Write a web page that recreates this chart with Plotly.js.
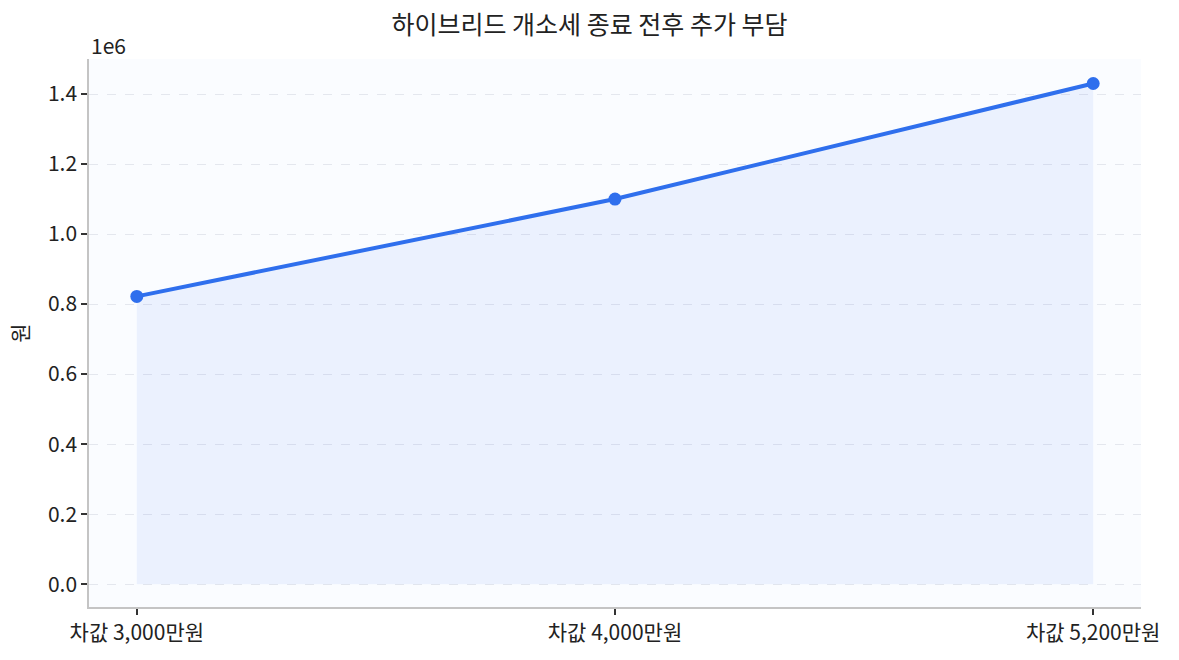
<!DOCTYPE html>
<html>
<head>
<meta charset="utf-8">
<script src="https://cdn.plot.ly/plotly-3.0.1.min.js"></script>
<style>
  html, body { margin: 0; padding: 0; background: #ffffff; }
  #chart { width: 1179px; height: 660px; }
</style>
</head>
<body>
<div id="chart"></div>
<script>
// 차값별 개소세 감면 종료 후 추가 부담 (원)
var categories = ['차값 3,000만원', '차값 4,000만원', '차값 5,200만원'];
var extraCost = [822000, 1100000, 1430000];
var yTicks = [0, 200000, 400000, 600000, 800000, 1000000, 1200000, 1400000];
var yTickText = ['0.0', '0.2', '0.4', '0.6', '0.8', '1.0', '1.2', '1.4'];

var font = 'Noto Sans CJK KR, Noto Sans, sans-serif';

var trace = {
    x: [0, 1, 2],
    y: extraCost,
    type: 'scatter',
    mode: 'lines+markers',
    fill: 'tozeroy',
    fillcolor: 'rgba(47,111,237,0.075)',
    line: {color: '#2f6fed', width: 4},
    marker: {color: '#2f6fed', size: 13},
    hoverinfo: 'x+y'
};

var layout = {
    width: 1179,
    height: 660,
    margin: {l: 89, r: 38, t: 59, b: 53},
    paper_bgcolor: '#ffffff',
    plot_bgcolor: '#fafcff',
    font: {family: font, size: 21, color: '#222222'},
    title: {
        text: '하이브리드 개소세 종료 전후 추가 부담',
        font: {family: font, size: 25, color: '#222222'},
        x: 0.5, xanchor: 'center', y: 0.962, yanchor: 'middle'
    },
    showlegend: false,
    xaxis: {
        range: [-0.1, 2.1],
        tickvals: [0, 1, 2],
        ticktext: categories,
        ticks: 'outside', ticklen: 6, tickwidth: 1.5, tickcolor: '#333333',
        showgrid: false, zeroline: false,
        showline: true, linecolor: '#c4c4c4', linewidth: 1.5,
        tickfont: {size: 21}
    },
    yaxis: {
        range: [-65000, 1500000],
        tickvals: yTicks,
        ticktext: yTickText,
        ticks: 'outside', ticklen: 6, tickwidth: 1.5, tickcolor: '#333333',
        showgrid: true, gridcolor: '#e4e7ee', griddash: 'dash', gridwidth: 1.2,
        zeroline: false,
        showline: true, linecolor: '#c4c4c4', linewidth: 1.5,
        tickfont: {size: 21},
        title: {text: '원', font: {size: 21}, standoff: 14}
    },
    annotations: [{
        text: '1e6', xref: 'paper', yref: 'paper', x: 0, y: 1,
        xanchor: 'left', yanchor: 'bottom', showarrow: false,
        font: {family: font, size: 21, color: '#222222'}, yshift: -3
    }]
};

Plotly.newPlot('chart', [trace], layout, {displayModeBar: false});
</script>
</body>
</html>
